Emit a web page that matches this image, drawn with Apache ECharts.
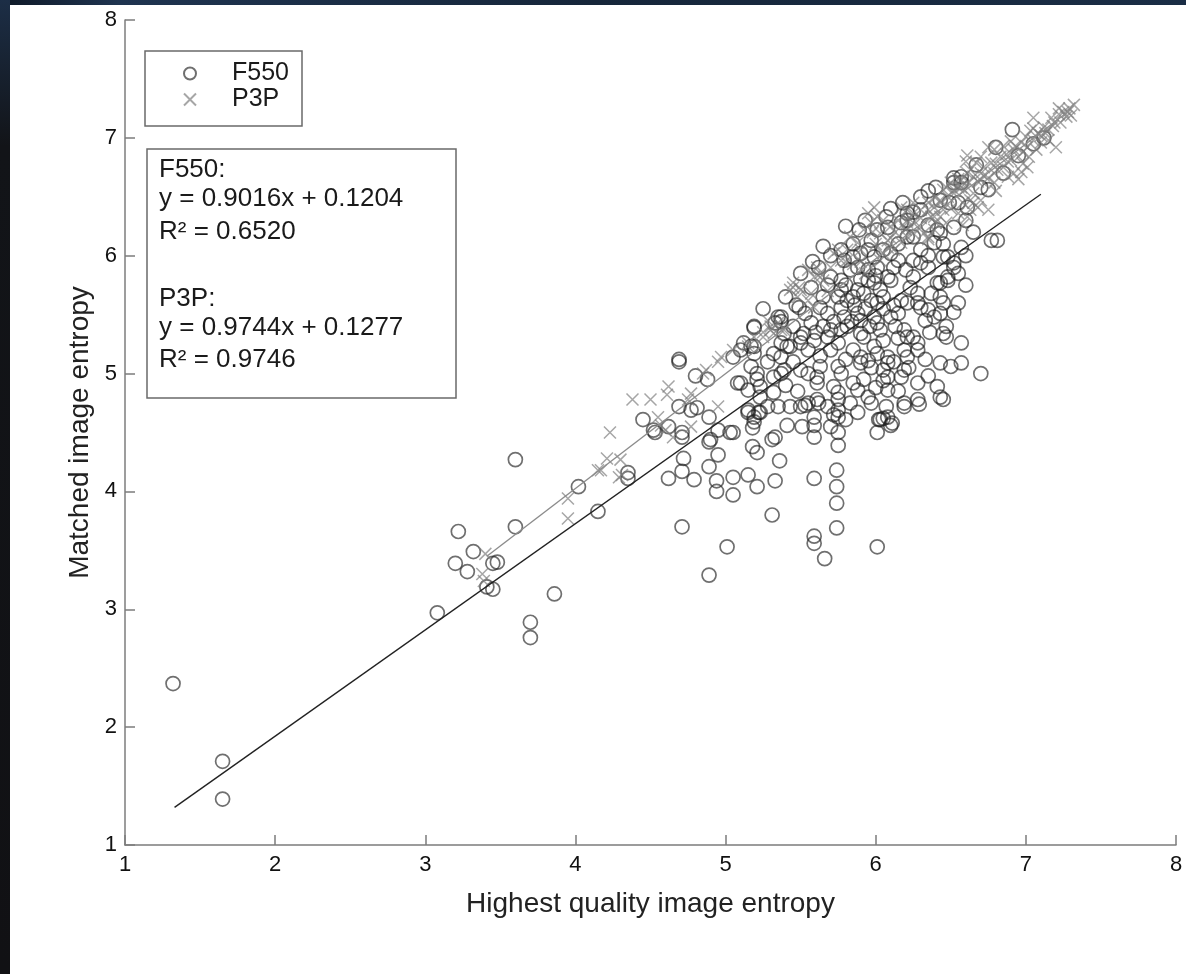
<!DOCTYPE html>
<html>
<head>
<meta charset="utf-8">
<script src="https://cdn.jsdelivr.net/npm/echarts@6/dist/echarts.min.js"></script>
<style>
html,body{margin:0;padding:0;background:#fff;}
#chart{width:1186px;height:974px;}
</style>
</head>
<body>
<div id="chart"></div>
<script>
// ---- data ----
const xTicks = [1, 2, 3, 4, 5, 6, 7, 8];
const yTicks = [1, 2, 3, 4, 5, 6, 7, 8];
const seriesNames = ['F550', 'P3P'];

const f550Points = [
[1.32,2.37],[1.65,1.71],[1.65,1.39],
[3.08,2.97],[3.22,3.66],[3.32,3.49],[3.20,3.39],[3.28,3.32],[3.45,3.39],[3.48,3.40],[3.41,3.19],[3.45,3.17],[3.60,3.70],[3.60,4.27],[3.86,3.13],[3.70,2.89],[3.70,2.76],
[4.02,4.04],[4.15,3.83],[4.35,4.16],[4.35,4.11],
[4.45,4.61],[4.52,4.52],[4.53,4.50],[4.62,4.55],[4.69,5.12],[4.69,5.10],[4.80,4.98],[4.88,4.95],[4.69,4.72],[4.77,4.69],[4.81,4.71],[4.71,4.50],[4.71,4.46],[4.72,4.28],[4.71,4.17],[4.62,4.11],[4.79,4.10],[4.71,3.70],[4.89,4.63],[4.90,4.44],[4.89,4.42],[4.95,4.52],[5.03,4.50],[4.95,4.31],[4.89,4.21],[4.89,3.29],[5.01,3.53],[4.94,4.00],[4.94,4.09],[5.05,3.97],[5.05,4.12],
[5.15,4.14],[5.21,4.04],[5.33,4.09],[5.36,4.26],[5.31,3.80],[5.18,4.38],[5.21,4.33],[5.31,4.44],[5.33,4.46],[5.05,4.50],[5.18,4.54],[5.41,4.56],[5.51,4.55],[5.59,4.46],[5.59,4.56],[5.59,4.63],[5.15,4.67],[5.22,4.67],[5.19,4.59],[5.35,4.72],[5.43,4.72],[5.50,4.72],[5.53,4.73],[5.62,4.75],
[5.59,3.62],[5.59,3.56],[5.66,3.43],[6.01,3.53],[5.74,3.69],[5.74,3.90],[5.74,4.04],[5.74,4.18],[5.59,4.11],[5.75,4.39],[5.75,4.50],[5.75,4.69],[5.72,4.65],[5.80,4.61],[6.01,4.50],[6.02,4.61],[6.05,4.62],[6.10,4.56],[6.11,4.58],[6.07,4.72],[6.19,4.72],[6.29,4.74],[6.45,4.78],
[6.40,6.58],[6.30,6.50],[6.52,6.62],[6.57,6.67],[6.75,6.56],[6.43,6.47],[6.49,6.45],[6.61,6.41],
[6.07,6.33],[6.21,6.36],[6.25,6.37],[6.17,6.28],[6.08,6.24],[5.89,6.22],[6.01,6.22],[6.35,6.26],[6.41,6.22],[6.43,6.19],[6.52,6.24],[6.57,6.07],[6.77,6.13],[6.81,6.13],[6.25,6.16],[6.21,6.16],[6.39,6.11],
[5.97,6.13],[5.95,6.05],[5.77,6.05],[5.79,5.96],[5.85,5.99],[5.90,6.02],[6.05,6.05],[6.10,6.02],[5.99,5.99],[6.01,5.90],[6.15,5.96],[6.25,5.96],[6.30,5.94],[6.48,5.99],[6.52,5.90],[5.83,5.88],[5.88,5.90],[5.95,5.88],[5.70,5.82],[5.77,5.79],
[6.08,5.82],[6.10,5.79],[6.25,5.82],[6.41,5.77],[6.48,5.79],[6.23,5.73],[6.28,5.68],[6.03,5.71],[5.99,5.77],[5.95,5.79],[5.88,5.71],[5.85,5.65],[5.77,5.71],[5.75,5.65],[5.57,5.73],[5.65,5.65],[6.05,5.65],[6.01,5.60],[5.97,5.62],[5.92,5.68],[6.37,5.68],[6.43,5.65],[6.45,5.60],[6.17,5.62],[6.21,5.60],[6.28,5.60],[6.30,5.56],
[5.47,5.58],[5.49,5.56],[5.53,5.51],[5.37,5.48],[5.33,5.43],[5.19,5.40],[5.63,5.56],[5.68,5.51],[5.77,5.56],[5.79,5.48],[5.88,5.51],[5.90,5.45],[5.99,5.48],[6.01,5.43],[6.10,5.48],[6.15,5.51],[6.19,5.37],[6.21,5.31],[6.25,5.31],[6.28,5.26],[6.35,5.54],[6.39,5.48],[6.43,5.51],[6.47,5.40],[6.45,5.34],[6.47,5.31],[5.57,5.43],[5.52,5.34],[5.65,5.40],[5.70,5.37],[5.77,5.37],[5.81,5.40],[5.90,5.34],[5.92,5.31],[6.03,5.37],[6.05,5.28],[5.41,5.23],[5.37,5.26],[5.19,5.23],[5.19,5.17],[5.32,5.17],[5.37,5.14],
[5.50,5.31],[5.50,5.26],[5.59,5.28],[5.68,5.31],[5.70,5.20],[5.75,5.26],[5.85,5.20],[5.90,5.14],[5.99,5.23],[6.01,5.17],[6.08,5.14],[6.08,5.09],[6.19,5.20],[6.21,5.14],[6.28,5.20],[6.57,5.26],[6.43,5.09],[6.50,5.06],[6.57,5.09],[6.70,5.00],[5.17,5.06],[5.21,5.00],[5.37,5.00],[5.39,5.03],[5.50,5.03],[5.55,5.00],[5.63,5.06],[5.61,4.97],[5.75,5.06],[5.77,5.00],[5.90,5.09],[5.95,5.11],[6.05,5.03],[6.08,4.97],[6.17,4.97],[6.19,5.03],
[6.28,4.92],[6.41,4.89],[6.43,4.80],[5.72,4.89],[5.75,4.84],[5.75,4.78],[5.85,4.92],[5.88,4.86],[5.95,4.80],[5.97,4.75],[6.05,4.94],[6.08,4.86],[5.61,4.92],[5.61,4.78],[5.55,4.75],[5.23,4.80],[5.23,4.89],[5.32,4.97],[6.19,4.75],[6.28,4.78],[6.08,4.63],[6.03,4.61],[5.83,4.75],[5.88,4.67],[5.75,4.63],
[5.12,5.26],[5.43,5.23],[5.39,5.34],[5.10,4.92],[5.15,4.86],
[5.05,5.14],[5.10,5.20],[5.17,5.23],[5.08,4.92],[5.21,4.95],[5.19,5.39],[5.15,4.69],[5.19,4.63],[5.23,4.67],[5.28,4.72],[5.32,4.84],[5.35,5.48],[5.37,5.44],
[6.91,7.07],[7.12,7.00],[6.80,6.92],[6.67,6.77],[6.52,6.66],[6.57,6.62],[6.52,5.94],[6.45,5.99],[6.48,5.82],[6.43,5.77],[6.30,6.39],[6.21,6.30],
[5.81,5.62],[5.86,5.58],[5.93,5.55],[6.05,5.55],[6.12,5.58],[6.13,5.40],[6.15,5.30],[5.96,5.40],[5.84,5.44],[5.72,5.44],[5.60,5.35],[5.55,5.20],[5.63,5.15],[5.80,5.12],[5.97,5.05],[6.12,5.10],[6.33,5.12],[6.36,5.35],[6.33,5.45],[6.52,5.52],[6.55,5.60],[6.60,5.75],[6.55,5.85],[6.35,5.90],[6.20,5.88],[6.12,5.90],[6.00,5.83],[5.90,5.80],[5.80,5.75],[5.68,5.75],[5.62,5.90],[5.70,6.00],[5.85,6.10],[6.15,6.10],[6.30,6.05],[6.45,6.10],[6.35,6.00],[6.60,6.30],[6.65,6.20],[6.55,6.45],[6.70,6.58],[6.85,6.70],[6.95,6.85],[7.05,6.95],[6.35,6.55],[6.18,6.45],[6.10,6.40],[5.93,6.30],[6.60,6.00],[5.45,5.40],[5.45,5.10],[5.28,5.10],[5.25,5.55],[5.40,5.65],[5.58,5.95],[5.50,5.85],[5.65,6.08],[5.80,6.25],[5.70,4.55],[5.68,4.72],[5.48,4.85],[5.40,4.90],[5.92,4.95],[6.00,4.88],[6.15,4.85],[6.35,4.98],[6.22,5.05]
];

const p3pPoints = [
[3.40,3.47],[3.38,3.30],[3.39,3.24],[3.95,3.94],[3.95,3.77],
[4.23,4.50],[4.17,4.18],[4.21,4.28],[4.30,4.27],[4.29,4.12],[4.15,4.18],[4.31,4.14],
[4.38,4.78],[4.50,4.78],[4.62,4.89],[4.61,4.82],[4.55,4.63],[4.57,4.56],[4.60,4.52],[4.65,4.46],[4.77,4.83],[4.75,4.78],[4.77,4.55],
[4.85,5.00],[4.87,5.03],[4.95,5.10],[4.97,5.14],[4.95,4.72],[5.05,5.20],[5.15,5.23],
[5.25,5.35],[5.30,5.40],[5.35,5.43],[5.39,5.37],[5.28,5.45],[5.30,5.37],[5.25,5.31],[5.32,5.34],[5.37,5.37],[5.19,5.31],[5.15,5.26],
[5.45,5.73],[5.48,5.65],[5.50,5.71],[5.63,5.82],[5.55,5.62],[5.59,5.56],[5.45,5.77],[5.49,5.73],[5.43,5.71],[5.63,5.85],[5.65,5.79],[5.72,6.02],[5.77,5.96],[5.75,6.05],
[5.55,5.88],[5.59,5.82],[5.61,5.90],
[5.95,6.36],[5.99,6.41],[6.01,6.33],[5.97,6.28],[6.08,6.07],[6.05,6.02],[6.12,6.05],[6.03,5.96],[5.83,6.16],[5.88,6.11],[5.81,6.05],[6.17,6.41],[6.21,6.39],[6.25,6.45],[6.03,6.19],[6.08,6.13],[6.21,6.28],[6.25,6.28],[6.32,6.19],[6.35,6.14],[6.43,6.33],[6.47,6.28],
[6.35,6.39],[6.39,6.33],[6.43,6.45],[6.48,6.50],[6.52,6.56],[6.57,6.58],[6.65,6.67],[6.70,6.64],[6.79,6.70],[6.65,6.45],[6.63,6.39],[6.55,6.36],
[7.29,7.25],[7.32,7.28],[7.30,7.19],[7.27,7.18],[7.23,7.13],[7.19,7.13],[7.15,7.07],[7.12,7.09],[7.08,7.04],[7.05,7.17],[7.20,6.92],[7.15,6.98],[7.10,6.96],[7.05,6.98],[7.01,6.92],[6.97,6.96],[7.00,7.01],[6.92,6.90],[6.95,6.84],[6.90,6.81],[6.83,6.84],[6.85,6.75],[6.81,6.73],[6.77,6.79],[6.79,6.90],[6.75,6.92],[7.02,6.84],[7.01,6.75],[6.97,6.71],[6.92,6.70],[6.88,6.67],[6.70,6.84],[6.67,6.79],[6.61,6.85],[6.60,6.80],[6.63,6.73],[6.70,6.70],[6.75,6.66],[6.79,6.62],[6.68,6.63],[6.61,6.70],[6.57,6.64],[6.55,6.58],[6.50,6.62],[6.52,6.53],[6.59,6.56],[6.65,6.53],[6.63,6.47],[6.68,6.41],[6.45,6.56],[6.43,6.47],[6.39,6.41],[6.35,6.45],[6.30,6.39],[6.25,6.36],[6.21,6.30],[6.37,6.33],[6.45,6.39],[6.61,6.33],[6.58,6.26],[6.70,6.47],[6.75,6.39],[6.30,6.24],[6.25,6.19],[6.21,6.16],[6.35,6.16],[6.39,6.22],[6.17,6.11],
[7.25,7.22],[7.22,7.20],[7.18,7.10],[7.10,7.02],[7.03,7.06],[6.98,6.88],[6.87,6.86],[6.72,6.75],[6.85,6.93],[7.13,7.04],
[5.90,5.95],[5.93,5.85],[5.97,5.90],[6.00,6.10],[5.85,5.93],[6.13,6.20],[6.15,6.30],[5.92,6.22],
[6.40,6.50],[6.47,6.58],[6.55,6.65],[6.62,6.62],[6.72,6.68],[6.80,6.78],[6.88,6.80],[6.93,6.93],[7.05,7.08],[7.17,7.17],[7.22,7.25],[7.28,7.22],[6.90,6.97],[7.07,6.90],[6.98,6.78],[6.95,6.65],[6.80,6.55],[6.58,6.45],[6.50,6.40],[6.40,6.28],[6.30,6.32],[6.20,6.22],[6.10,6.25],[6.05,6.30],[5.98,6.20],[5.90,6.05],[5.80,5.95],[5.70,5.90],[5.68,5.70],[5.57,5.68],[6.10,6.15]
];

// fitted lines as printed on the chart: slope, intercept, x range of the drawn line
const fitF550 = [0.9016, 0.1204];
const fitF550Range = [1.33, 7.10];
const fitP3P = [0.9744, 0.1277];
const fitP3PRange = [3.41, 7.30];

const statLines = [
  'F550:', 'y = 0.9016x + 0.1204', 'R\u00b2 = 0.6520',
  'P3P:', 'y = 0.9744x + 0.1277', 'R\u00b2 = 0.9746'
];
const statBaselines = [178, 207, 240, 307, 336, 368];

const xName = 'Highest quality image entropy';
const yName = 'Matched image entropy';

// ---- chart ----
const FONT = '"Liberation Sans", Arial, sans-serif';
const chart = echarts.init(document.getElementById('chart'));

function fitLine(fit, range) {
  return range.map(x => [x, fit[0] * x + fit[1]]);
}

const axisCommon = {
  type: 'value', min: 1, max: 8, interval: 1,
  splitLine: { show: false },
  axisLine: { show: true, lineStyle: { color: '#7c7c7c', width: 1.5 } },
  axisTick: { show: true, inside: true, length: 10, lineStyle: { color: '#7c7c7c', width: 1.5 } },
  axisLabel: { fontSize: 22, color: '#111', fontFamily: FONT },
  nameLocation: 'middle',
  nameTextStyle: { fontSize: 28, color: '#222', fontFamily: FONT }
};

const texts = statLines.map((t, i) => ({
  type: 'text',
  style: { text: t, x: 159, y: statBaselines[i] - 8, font: '26px ' + FONT, fill: '#1a1a1a', verticalAlign: 'middle' },
  z: 20
}));

const option = {
  backgroundColor: '#ffffff',
  animation: false,
  grid: { left: 125, right: 10, top: 20, bottom: 129 },
  xAxis: Object.assign({}, axisCommon, {
    name: xName, nameGap: 45,
    axisLabel: Object.assign({}, axisCommon.axisLabel, { margin: 9 })
  }),
  yAxis: Object.assign({}, axisCommon, {
    name: yName, nameGap: 30,
    axisLabel: Object.assign({}, axisCommon.axisLabel, { margin: 8 })
  }),
  legend: {
    orient: 'vertical', left: 178, top: 56,
    itemWidth: 12, itemHeight: 12, itemGap: 1,
    data: seriesNames,
    textStyle: { fontSize: 25, lineHeight: 22, color: '#1a1a1a', fontFamily: FONT, padding: [0, 0, 0, 31] },
    z: 10
  },
  graphic: [
    { type: 'rect', shape: { x: 0, y: 0, width: 1186, height: 5 },
      style: { fill: new echarts.graphic.LinearGradient(0, 0, 1, 0, [
        { offset: 0, color: '#0e1826' }, { offset: 0.1, color: '#1f3450' },
        { offset: 0.5, color: '#16263a' }, { offset: 1, color: '#1a2d45' }]) }, z: 50 },
    { type: 'rect', shape: { x: 0, y: 0, width: 10, height: 974 },
      style: { fill: new echarts.graphic.LinearGradient(0, 0, 0, 1, [
        { offset: 0, color: '#1c2e46' }, { offset: 0.15, color: '#121418' }, { offset: 1, color: '#111114' }]) }, z: 50 },
    { type: 'rect', shape: { x: 145, y: 51, width: 157, height: 75 },
      style: { fill: 'none', stroke: '#6a6a6a', lineWidth: 1.5 }, z: 1 },
    { type: 'rect', shape: { x: 147, y: 149, width: 309, height: 249 },
      style: { fill: 'none', stroke: '#6a6a6a', lineWidth: 1.5 }, z: 1 }
  ].concat(texts),
  series: [
    {
      name: 'F550', type: 'scatter', data: f550Points,
      symbol: 'circle', symbolSize: 14,
      itemStyle: { color: 'rgba(0,0,0,0)', borderColor: 'rgba(30,30,30,0.8)', borderWidth: 1.7 },
      z: 2
    },
    {
      name: 'P3P', type: 'scatter', data: p3pPoints,
      symbol: 'path://M0,0L10,10M10,0L0,10', symbolSize: 12,
      itemStyle: { color: 'rgba(0,0,0,0)', borderColor: 'rgba(125,125,125,0.85)', borderWidth: 1.5 },
      z: 3
    },
    {
      name: 'F550 fit', type: 'line', data: fitLine(fitF550, fitF550Range),
      symbol: 'none', lineStyle: { color: '#222', width: 1.4 }, z: 4
    },
    {
      name: 'P3P fit', type: 'line', data: fitLine(fitP3P, fitP3PRange),
      symbol: 'none', lineStyle: { color: '#8c8c8c', width: 1.4 }, z: 4
    }
  ]
};
chart.setOption(option);
</script>
</body>
</html>
